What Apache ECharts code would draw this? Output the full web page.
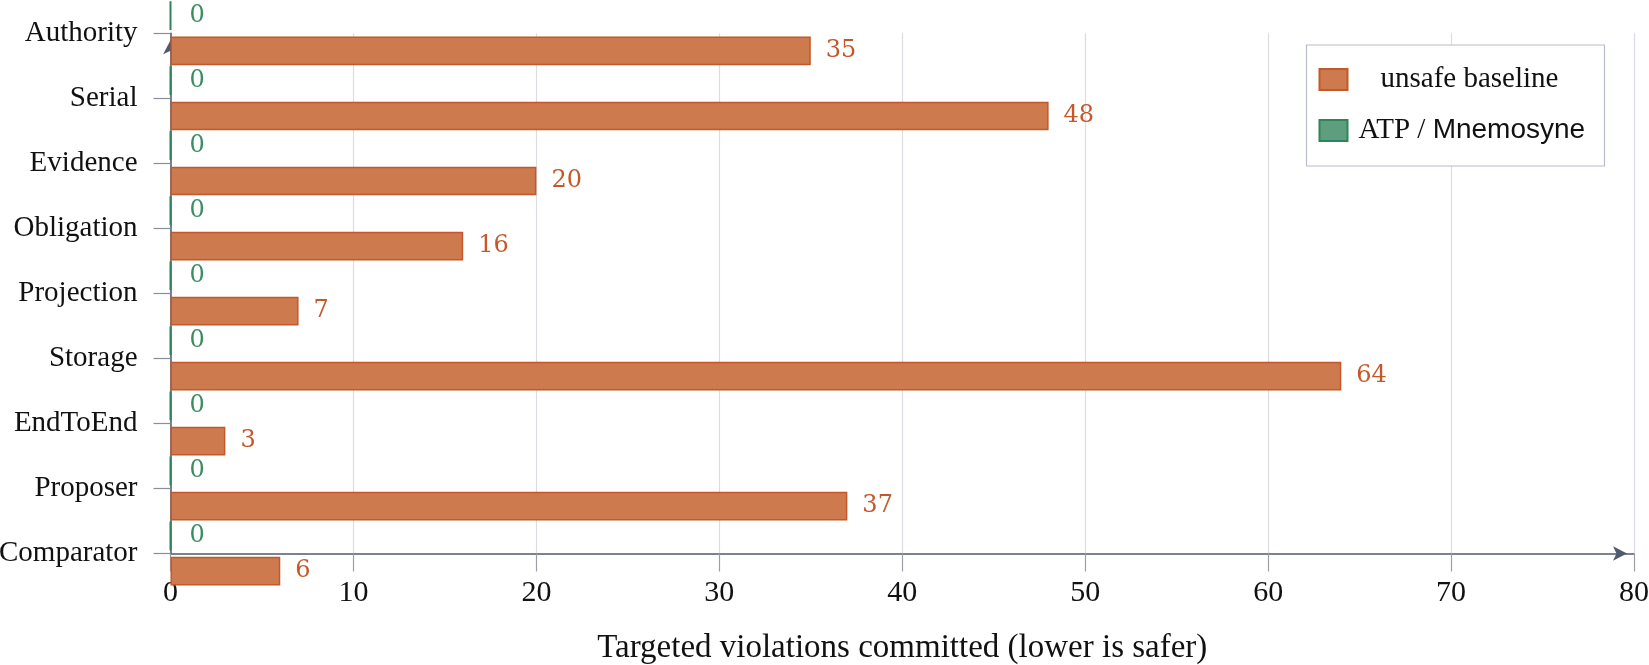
<!DOCTYPE html>
<html>
<head>
<meta charset="utf-8">
<title>Targeted violations</title>
<script src="https://cdn.jsdelivr.net/npm/echarts@6/dist/echarts.min.js"></script>
<style>
  html, body { margin: 0; padding: 0; background: #fff; }
  #main { width: 1649px; height: 665px; }
</style>
</head>
<body>
<div id="main"></div>
<script>
// ------------------ data (top to bottom, as in the picture) ------------------
let categories = ['Authority', 'Serial', 'Evidence', 'Obligation', 'Projection', 'Storage', 'EndToEnd', 'Proposer', 'Comparator'];
let baselineValues = [35, 48, 20, 16, 7, 64, 3, 37, 6];
let atpValues = [0, 0, 0, 0, 0, 0, 0, 0, 0];
let xTicks = [0, 10, 20, 30, 40, 50, 60, 70, 80];

const SERIF = '"Liberation Serif", "DejaVu Serif", serif';
const NUM = '"DejaVu Serif", "Liberation Serif", serif';
const SANS = '"Liberation Sans", Arial, sans-serif';
const ORANGE = '#cd7a4e';
const ORANGE_EDGE = '#c4582a';
const ORANGE_TEXT = '#c5582b';
const GREEN = '#5c9e7e';
const GREEN_EDGE = '#2f855a';
const GREEN_TEXT = '#3b8d62';
const AXIS = '#505a6e';

// category axis goes bottom -> top, so reverse the lists
let catsUp = categories.slice().reverse();
let baseUp = baselineValues.slice().reverse();
let atpUp = atpValues.slice().reverse();

let myChart = echarts.init(document.getElementById('main'), null, {renderer: 'canvas'});

let option = {
    animation: false,
    backgroundColor: '#fff',
    grid: {
        left: 170.5,
        right: 15,
        top: 33.3,
        bottom: 111.5,
        containLabel: false,
        outerBoundsMode: 'none'
    },
    legend: {
        data: ['unsafe baseline', 'ATP / Mnemosyne'],
        orient: 'vertical',
        left: 1306.5,
        top: 45,
        padding: [20, 18, 21, 12],
        itemWidth: 28,
        itemHeight: 21,
        itemGap: 22,
        selectedMode: false,
        backgroundColor: '#fff',
        borderColor: '#b9bcc9',
        borderWidth: 1.2,
        borderRadius: 0,
        icon: 'rect',
        formatter: function (name) {
            if (name === 'unsafe baseline') return '{c|unsafe baseline}';
            return '{s|ATP / }{m|Mnemosyne}';
        },
        textStyle: {
            lineHeight: 21,
            rich: {
                c: {width: 234, align: 'center', fontFamily: SERIF, fontSize: 29, color: '#111', lineHeight: 21},
                s: {fontFamily: SERIF, fontSize: 29, color: '#111', padding: [0, 0, 0, 6], lineHeight: 21},
                m: {fontFamily: SANS, fontSize: 28, color: '#111', lineHeight: 21}
            }
        }
    },
    xAxis: {
        type: 'value',
        min: xTicks[0],
        max: xTicks[xTicks.length - 1],
        interval: 10,
        name: 'Targeted violations committed (lower is safer)',
        nameLocation: 'middle',
        nameGap: 78,
        nameTextStyle: {fontFamily: SERIF, fontSize: 33, color: '#111'},
        axisLine: {
            show: true,
            lineStyle: {color: AXIS, width: 1.5},
            symbol: ['none', 'arrow'],
            symbolSize: [11, 14],
            symbolOffset: [0, -7]
        },
        axisTick: {show: true, length: 18, lineStyle: {color: '#9a9ea8', width: 1.2}},
        axisLabel: {fontFamily: SERIF, fontSize: 30, color: '#111', margin: 25},
        splitLine: {show: true, lineStyle: {color: '#dcdde2', width: 1.2}}
    },
    yAxis: {
        type: 'category',
        data: catsUp,
        boundaryGap: false,
        axisLine: {
            show: true,
            lineStyle: {color: AXIS, width: 1.5},
            symbol: ['none', 'arrow'],
            symbolSize: [11, 14],
            symbolOffset: [0, -7]
        },
        axisTick: {show: true, inside: false, length: 17, lineStyle: {color: '#8a8f9c', width: 1.2}},
        axisLabel: {
            fontFamily: SERIF, fontSize: 29, color: '#111', margin: 33,
            padding: [0, 0, 8, 0]
        },
        splitLine: {show: false}
    },
    series: [
        // ECharts stacks horizontal bars top-down in series order, so the green one goes first
        {
            name: 'ATP / Mnemosyne',
            type: 'bar',
            data: atpUp,
            barWidth: 28.7,
            barGap: '23%',
            clip: false,
            itemStyle: {color: GREEN, borderColor: GREEN_EDGE, borderWidth: 2},
            label: {
                show: true, position: 'right', distance: 18,
                fontFamily: NUM, fontSize: 24, color: GREEN_TEXT
            }
        },
        {
            name: 'unsafe baseline',
            type: 'bar',
            data: baseUp,
            barWidth: 28.7,
            barGap: '23%',
            clip: false,
            itemStyle: {color: ORANGE, borderColor: ORANGE_EDGE, borderWidth: 1.5},
            label: {
                show: true, position: 'right', distance: 15,
                fontFamily: NUM, fontSize: 24, color: ORANGE_TEXT
            }
        }
    ]
};

myChart.setOption(option, true);
</script>
</body>
</html>
